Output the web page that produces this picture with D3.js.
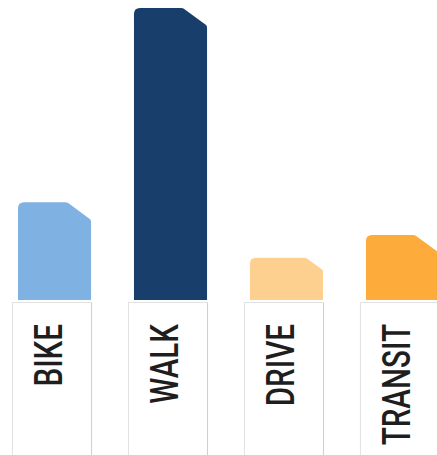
<!DOCTYPE html>
<html>
<head>
<meta charset="utf-8">
<script src="https://cdnjs.cloudflare.com/ajax/libs/d3/7.8.5/d3.min.js"></script>
<style>
  body { margin: 0; background: #fff; overflow: hidden; }
  svg { display: block; }
</style>
</head>
<body>
<div class="chart"></div>
<script>
// mode share (percent)
var modes = ['BIKE', 'WALK', 'DRIVE', 'TRANSIT'];
var shares = [19.7, 58.8, 8.5, 13.1];
var colors = ['#80b1e3', '#183f6b', '#fed08f', '#fdac3b'];

var width = 437, height = 455;
var base = 300;

var svg = d3.select('.chart').append('svg')
  .attr('width', width)
  .attr('height', height);

var x = d3.scaleBand()
  .domain(modes)
  .range([18, 439])
  .paddingInner(0.37)
  .paddingOuter(0);

var y = d3.scaleLinear()
  .domain([0, 60])
  .range([base, 2]);

var bw = x.bandwidth();

// bar with rounded top-left and cut top-right corner
function barPath(d, i) {
  var x0 = x(modes[i]), x1 = x0 + bw;
  var top = y(d);
  var h = base - top;
  var cw = Math.min(24, h * 0.4);
  var ch = cw * 0.75;
  var r = 6;
  return 'M' + x0 + ',' + base +
    'L' + x0 + ',' + (top + r) +
    'Q' + x0 + ',' + top + ' ' + (x0 + r) + ',' + top +
    'L' + (x1 - cw - 2) + ',' + top +
    'Q' + (x1 - cw) + ',' + top + ' ' + (x1 - cw + 1.5) + ',' + (top + 1.2) +
    'L' + (x1 - 1) + ',' + (top + ch - 1) +
    'Q' + x1 + ',' + (top + ch) + ' ' + x1 + ',' + (top + ch + 1.5) +
    'L' + x1 + ',' + base + 'Z';
}

svg.selectAll('.bar')
  .data(shares)
  .enter().append('path')
  .attr('class', 'bar')
  .attr('d', barPath)
  .attr('fill', function(d, i){ return colors[i]; });

// label cards
var cards = svg.selectAll('.card')
  .data(modes)
  .enter().append('g')
  .attr('class', 'card');

cards.append('rect')
  .attr('x', function(d){ return x(d) - 5.5; })
  .attr('y', base + 2.5)
  .attr('width', bw + 6)
  .attr('height', 200)
  .attr('fill', '#fff')
  .attr('stroke', '#e2e2e2')
  .attr('stroke-width', 1);

// darker right edge of each card
cards.append('line')
  .attr('x1', function(d){ return x(d) + bw + 0.5; })
  .attr('x2', function(d){ return x(d) + bw + 0.5; })
  .attr('y1', base + 3)
  .attr('y2', height)
  .attr('stroke', '#cfcfcf');

cards.append('text')
  .attr('transform', function(d){
    return 'translate(' + (x(d) + 44) + ',324) rotate(-90) scale(0.78,1)';
  })
  .attr('text-anchor', 'end')
  .attr('font-family', 'Roboto, sans-serif')
  .attr('font-weight', 500)
  .attr('font-size', 38)
  .attr('fill', '#1e1e1e')
  .text(function(d){ return d; });
</script>
</body>
</html>
